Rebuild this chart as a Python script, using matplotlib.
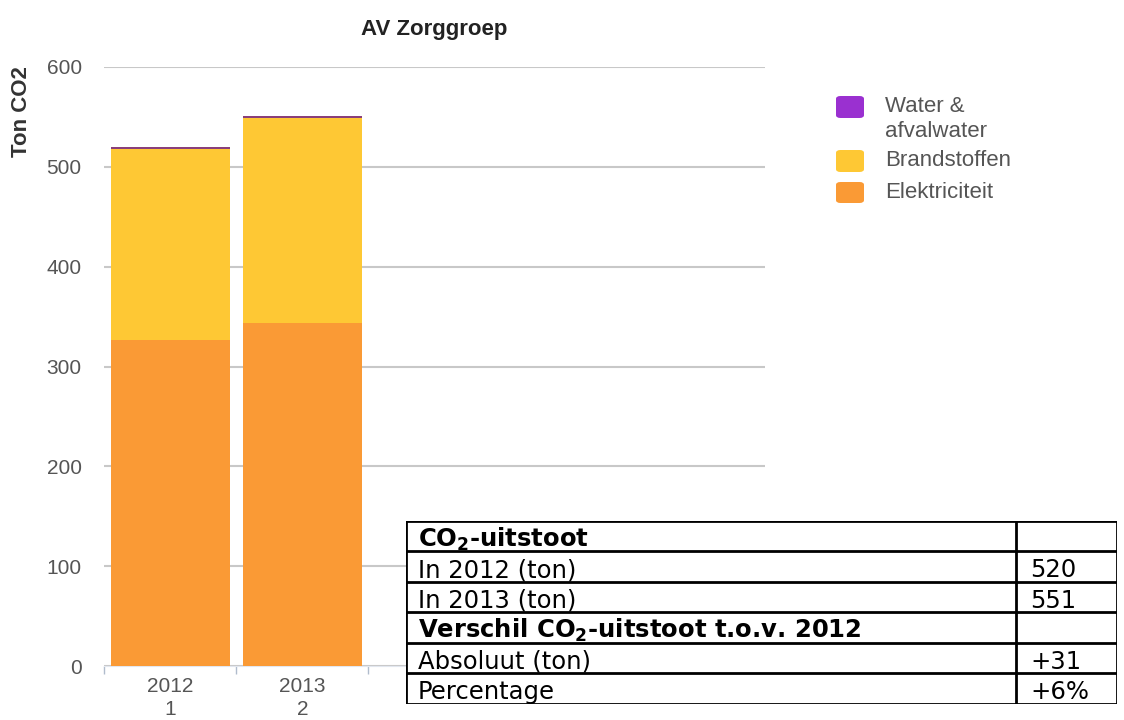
import numpy as np
import matplotlib.pyplot as plt
from matplotlib.patches import FancyBboxPatch

years = ["2012", "2013"]
idx = ["1", "2"]
elektriciteit = [327, 344]
brandstoffen = [191, 205]
water = [2, 2]

series = ["Water &\nafvalwater", "Brandstoffen", "Elektriciteit"]
colors = ["#9A30D0", "#FEC834", "#FA9A35"]

table_rows = [
    ("CO$_2$-uitstoot", "", True),
    ("In 2012 (ton)", "520", False),
    ("In 2013 (ton)", "551", False),
    ("Verschil CO$_2$-uitstoot t.o.v. 2012", "", True),
    ("Absoluut (ton)", "+31", False),
    ("Percentage", "+6%", False),
]

W, H = 1124, 720
fig = plt.figure(figsize=(W / 100, H / 100), dpi=100)
plt.rcParams['font.family'] = ['Liberation Sans', 'DejaVu Sans']
plt.rcParams['mathtext.fontset'] = 'custom'
plt.rcParams['mathtext.rm'] = 'DejaVu Sans:bold'


def fx(px):
    return px / W


def fy(py):
    return 1 - py / H


ax = fig.add_axes([fx(104), fy(666), fx(765) - fx(104), fy(67) - fy(666)])

x = np.arange(len(years))
e = np.array(elektriciteit)
b = np.array(brandstoffen)
w = np.array(water)
ax.bar(x, e, width=0.9, color=colors[2], zorder=3)
ax.bar(x, b, bottom=e, width=0.9, color=colors[1], zorder=3)
ax.bar(x, w, bottom=e + b, width=0.9, color="#8a3f7a", zorder=3)

ax.set_xlim(-0.5, 4.5)
ax.set_ylim(0, 600)
ax.set_yticks(range(0, 601, 100))
ax.grid(axis="y", color="#c8c8c8", lw=1.5, zorder=0)
ax.set_xticks(x)
ax.set_xticklabels([f"{y}\n{i}" for y, i in zip(years, idx)], linespacing=1.25)
ax.set_xticks(np.arange(-0.5, 5, 1), minor=True)
ax.tick_params(axis="x", which="major", length=0, pad=8, labelsize=15, labelcolor="#555555")
ax.tick_params(axis="x", which="minor", length=6, color="#b0bccc", width=1)
ax.tick_params(axis="y", length=0, pad=16, labelsize=15, labelcolor="#555555")
for s in ["top", "right", "left"]:
    ax.spines[s].set_visible(False)
ax.spines["bottom"].set_color("#e2e7ef")

ax.set_title("AV Zorggroep", fontsize=16, fontweight="bold", color="#222222", pad=23)
ax.set_ylabel("Ton CO2", fontsize=16, fontweight="bold", color="#333333")
ax.yaxis.set_label_coords(-0.109, 0.925)

# legend
leg_y = [(96, 118), (150, 172), (182, 203)]
txt_y = [119, 161, 193]
for (y0, y1), ty, lab, col in zip(leg_y, txt_y, series, colors):
    fig.patches.append(FancyBboxPatch((fx(836), fy(y1)), fx(864) - fx(836), fy(y0) - fy(y1),
                                      boxstyle="round,pad=0,rounding_size=0.004",
                                      transform=fig.transFigure, color=col, lw=0))
    fig.text(fx(885), fy(ty), lab, fontsize=16, color="#555555", va="center", ha="left",
             linespacing=1.3)

# table
tax = fig.add_axes([fx(406), fy(703.5), fx(1117) - fx(406), fy(520.5) - fy(703.5)])
tax.set_xlim(0, 1)
tax.set_ylim(len(table_rows), 0)
tax.axis("off")
tax.add_patch(plt.Rectangle((0, 0), 1, len(table_rows), color="white", zorder=0))
split = (1015.7 - 406) / (1117 - 406)
for i in range(len(table_rows) + 1):
    tax.plot([0, 1], [i, i], color="black", lw=2, solid_capstyle="projecting")
for xv in [0, split, 1]:
    tax.plot([xv, xv], [0, len(table_rows)], color="black", lw=2, solid_capstyle="projecting")
for i, (lab, val, bold) in enumerate(table_rows):
    tax.text(0.017, i + 0.86, lab, fontsize=17.5, family="DejaVu Sans",
             fontweight="bold" if bold else "normal", va="baseline", ha="left", color="black")
    tax.text(split + 0.02, i + 0.86, val, fontsize=17.5, family="DejaVu Sans",
             va="baseline", ha="left", color="black")

fig.savefig("out.png", dpi=100)
